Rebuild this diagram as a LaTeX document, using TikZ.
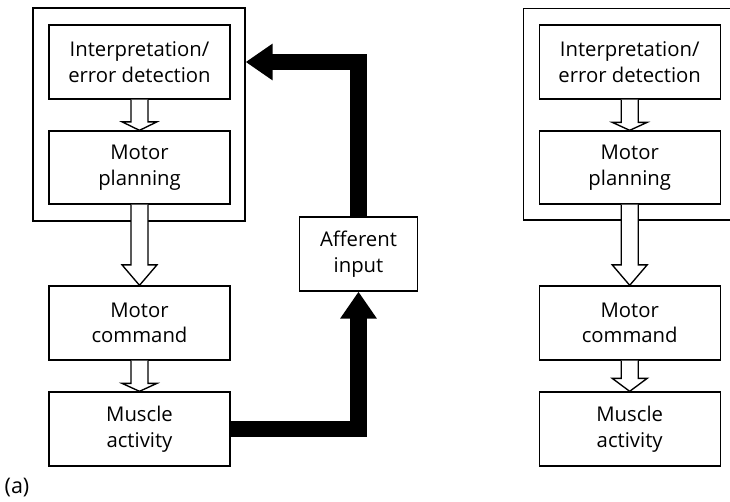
\documentclass[tikz,border=0pt]{standalone}
\usepackage{fontspec}
\setmainfont{Open Sans}
\usetikzlibrary{arrows.meta,calc}

% outlined block arrow between two stacked boxes: #1 upper box, #2 lower box, #3 head length
\newcommand\hollowarrow[3]{%
  \draw[hollow] ($(#1.south)+(-8.5,0)$) -- ($(#2.north)+(-8.5,-#3)$)
    -- ($(#2.north)+(-17.5,-#3)$) -- (#2.north) -- ($(#2.north)+(17.5,-#3)$)
    -- ($(#2.north)+(8.5,-#3)$) -- ($(#1.south)+(8.5,0)$);}

\begin{document}
\begin{tikzpicture}[x=1pt,y=-1pt,
  box/.style={draw,line width=1.35pt,minimum width=181pt,minimum height=74pt,
    inner sep=0pt,align=center,font=\fontsize{20.3}{25.5}\selectfont},
  frame/.style={draw,line width=1.35pt},
  hollow/.style={draw,fill=white,line width=1.35pt,line join=miter},
  feedback/.style={line width=16.5pt,line join=miter,
    -{Triangle[length=27pt,width=35pt]}}]
\useasboundingbox (0,0) rectangle (730,501);

% ---- left panel ----
\node[frame,minimum width=212pt,minimum height=213pt] (frameL) at (139,114.5) {};
\node[box] (intL)  at (139.5,62)    {Interpretation/\\error detection};
\node[box, minimum height=73pt] (planL) at (139.5,167.5) {Motor\\planning};
\node[box] (cmdL)  at (139.5,323)   {Motor\\command};
\node[box] (musL)  at (139.5,429)   {Muscle\\activity};
\node[box, minimum width=118pt] (aff) at (358.5,254) {Afferent\\input};

\hollowarrow{intL}{planL}{8.5}
\hollowarrow{planL}{cmdL}{20.5}
\hollowarrow{cmdL}{musL}{8}

\draw[feedback] (musL.east) -- (musL.east -| aff) -- (aff.south);
\draw[feedback] (aff.north) -- (aff.north |- intL) -- (frameL.east |- intL);

\node[inner sep=0pt,font=\fontsize{21.5}{24}\selectfont] (lab) at (17,488) {(a)};

% ---- right panel ----
\draw[frame] (731,8.3) -- (523.3,8.3) -- (523.3,220) -- (731,220);
\node[box] (intR)  at (629.7,62)    {Interpretation/\\error detection};
\node[box, minimum height=73pt] (planR) at (629.7,167.5) {Motor\\planning};
\node[box] (cmdR)  at (629.7,323)   {Motor\\command};
\node[box] (musR)  at (629.7,429)   {Muscle\\activity};

\hollowarrow{intR}{planR}{8}
\hollowarrow{planR}{cmdR}{20.5}
\hollowarrow{cmdR}{musR}{13}
\end{tikzpicture}
\end{document}
